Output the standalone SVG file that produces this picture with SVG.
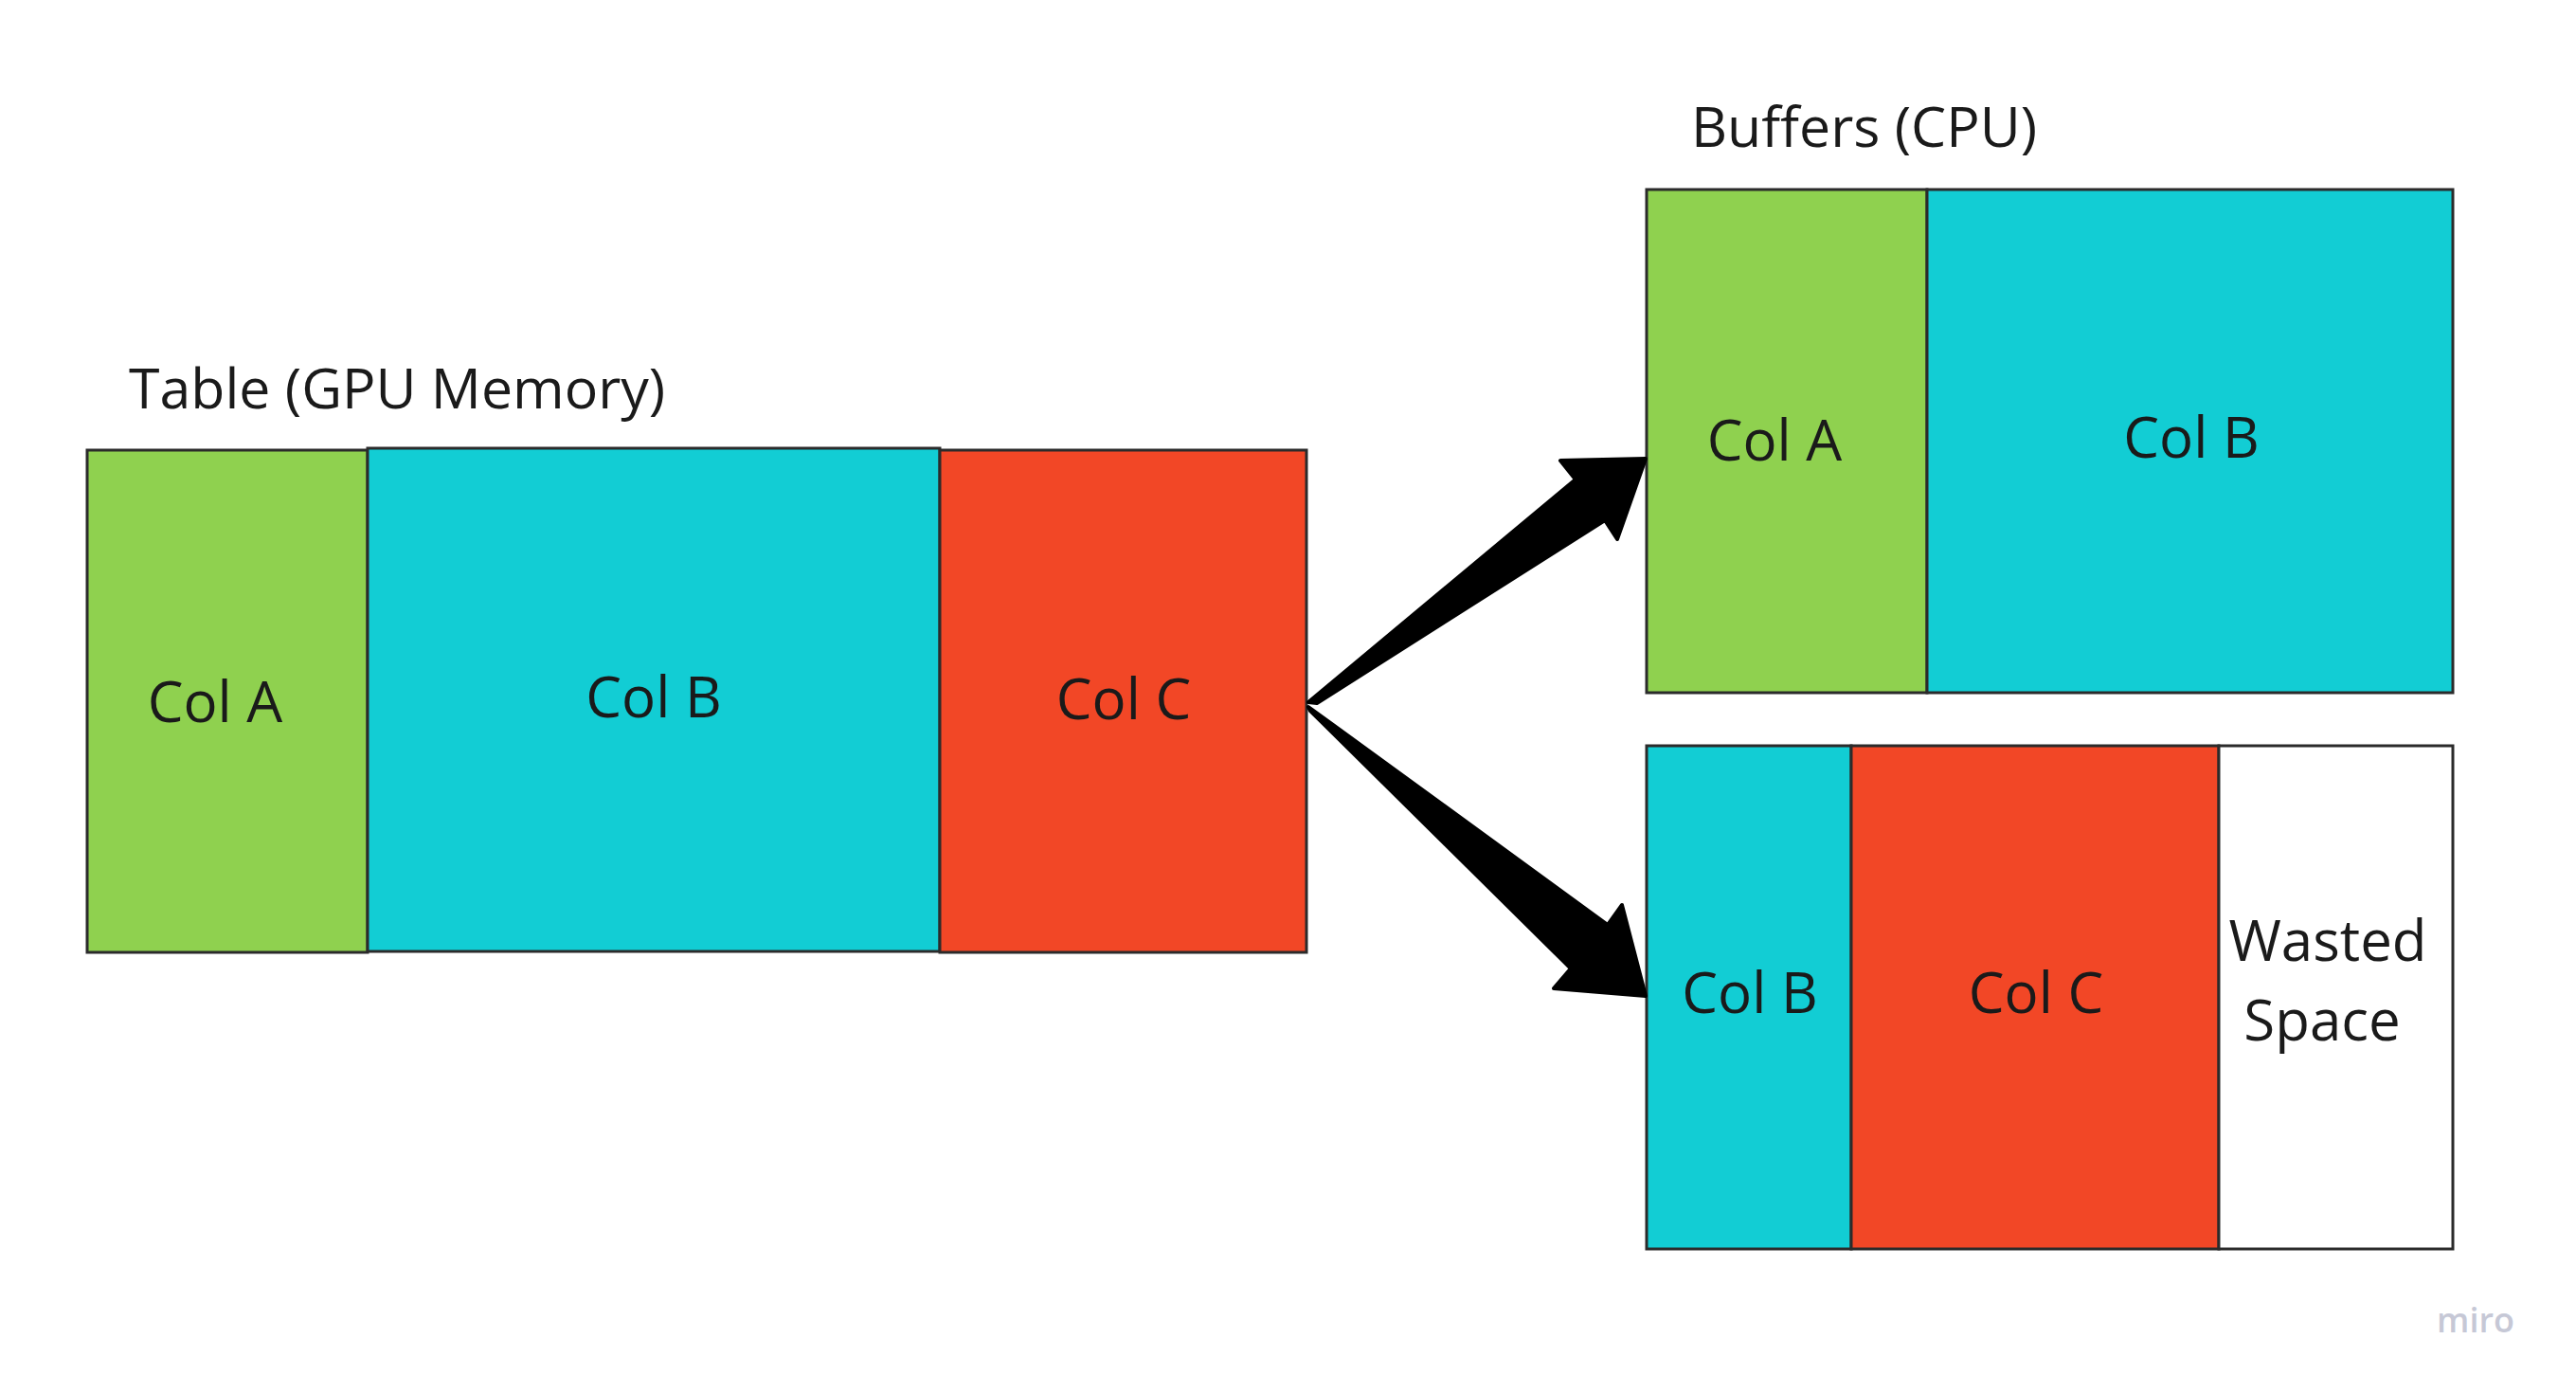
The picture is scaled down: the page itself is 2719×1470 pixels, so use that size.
<svg xmlns="http://www.w3.org/2000/svg" width="2719" height="1470" viewBox="0 0 2719 1470">
<style>
.box{stroke:#2b2b2b;stroke-width:3}
.g{fill:#8fd14f}.c{fill:#12cdd4}.r{fill:#f24726}.w{fill:#ffffff}
.t{font-family:"Open Sans","Noto Sans",sans-serif;font-size:60px;fill:#1a1a1a}
.h{font-size:59px}
.m{text-anchor:middle}
.arrow{fill:#000;stroke:#000;stroke-width:4;stroke-linejoin:round}
</style>
<rect width="2719" height="1470" fill="#ffffff"/>
<g id="title-gpu"><text class="t h" x="136" y="431">Table (GPU Memory)</text></g>
<g id="title-cpu"><text class="t h" x="1785" y="155">Buffers (CPU)</text></g>
<g id="gpu-col-a"><rect class="box g" x="92" y="475" width="296" height="530"/><text class="t m" x="227" y="762">Col A</text></g>
<g id="gpu-col-b"><rect class="box c" x="388" y="473" width="604" height="531"/><text class="t m" x="690" y="757">Col B</text></g>
<g id="gpu-col-c"><rect class="box r" x="992" y="475" width="387" height="530"/><text class="t m" x="1186" y="759">Col C</text></g>
<g id="buf1-col-a"><rect class="box g" x="1738" y="200" width="296" height="531"/><text class="t m" x="1873" y="486">Col A</text></g>
<g id="buf1-col-b"><rect class="box c" x="2034" y="200" width="555" height="531"/><text class="t m" x="2313" y="483">Col B</text></g>
<g id="buf2-col-b"><rect class="box c" x="1738" y="787" width="216" height="531"/><text class="t m" x="1847" y="1069">Col B</text></g>
<g id="buf2-col-c"><rect class="box r" x="1954" y="787" width="388" height="531"/><text class="t m" x="2149" y="1069">Col C</text></g>
<g id="buf2-wasted"><rect class="box w" x="2342" y="787" width="247" height="531"/><text class="t m" x="2457" y="1014">Wasted</text><text class="t m" x="2451" y="1098">Space</text></g>
<g id="connectors">
<path class="arrow" d="M1381 741 L1663 506 L1647 486 L1737 484 L1707 569 L1694 549 L1390 742 Z"/>
<path class="arrow" d="M1381 746 L1697 976 L1712 955 L1737 1051 L1640 1043 L1658 1022 L1383 750 Z"/>
</g>
<g id="watermark"><text x="2613" y="1406" text-anchor="middle" font-family="'Open Sans',sans-serif" font-weight="600" font-size="36" fill="#c6c8d6">miro</text></g>
</svg>
